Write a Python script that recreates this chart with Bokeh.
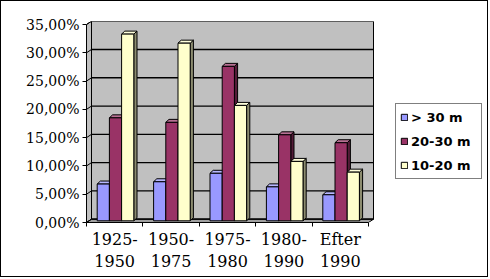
from bokeh.plotting import figure
from bokeh.models import (Range1d, FixedTicker, Legend, LegendItem, ColumnDataSource)
from bokeh.embed import file_html
from bokeh.resources import INLINE

# ---- data ----
tick_labels = ["1925-\n1950", "1950-\n1975", "1975-\n1980", "1980-\n1990", "Efter\n1990"]
series_names = ["> 30 m", "20-30 m", "10-20 m"]
over_30 = [6.5, 6.9, 8.4, 6.0, 4.6]
m20_30 = [18.2, 17.4, 27.3, 15.2, 13.8]
m10_20 = [33.0, 31.4, 20.4, 10.5, 8.6]
y_ticks = [0, 5, 10, 15, 20, 25, 30, 35]

series = [over_30, m20_30, m10_20]
colors = ["#9999FF", "#993366", "#FFFFCC"]

# ---- geometry / style ----
PX_X = 56.4           # px per category
PX_Y = 198 / 35       # px per percent
WX, WY = 5 / PX_X, 3.3 / PX_Y        # wall depth
DX, DY = 3.2 / PX_X, 3.0 / PX_Y      # bar depth
BW = 12.2 / PX_X
OFF = 10.7 / PX_X
BASE = 0.3
n = len(tick_labels)
ymax = y_ticks[-1]


def shade(hexc, f):
    r, g, b = int(hexc[1:3], 16), int(hexc[3:5], 16), int(hexc[5:7], 16)
    return "#%02x%02x%02x" % (int(r * f), int(g * f), int(b * f))


def tint(hexc, f):
    r, g, b = int(hexc[1:3], 16), int(hexc[3:5], 16), int(hexc[5:7], 16)
    return "#%02x%02x%02x" % (int(r + (255 - r) * f), int(g + (255 - g) * f), int(b + (255 - b) * f))


# canvas 488x277 plus a 1px CSS border -> 490x279 on the page
p = figure(width=488, height=277, output_backend="svg", toolbar_location=None,
           x_range=Range1d(0, 402 / PX_X), y_range=Range1d(0, 201 / PX_Y),
           min_border_left=85, min_border_right=1, min_border_top=20, min_border_bottom=56)
p.styles = {"border": "1px solid black"}
p.xgrid.visible = False
p.ygrid.visible = False
p.outline_line_color = None
p.background_fill_color = "white"
p.border_fill_color = "white"

# walls
p.quad(left=[WX], right=[n + WX], bottom=[WY], top=[ymax + WY],
       fill_color="#C0C0C0", line_color="black", line_width=1)
p.patch([0, WX, WX, 0], [0, WY, ymax + WY, ymax], fill_color="#C0C0C0",
        line_color="black", line_width=1)
p.patch([0, n, n + WX, WX], [0, 0, WY, WY], fill_color="#A0A0A0",
        line_color="black", line_width=1)
p.segment(x0=[WX] * len(y_ticks), y0=[t + WY for t in y_ticks],
          x1=[n + WX] * len(y_ticks), y1=[t + WY for t in y_ticks],
          line_color="black", line_width=1.3)
p.segment(x0=[0] * len(y_ticks), y0=y_ticks, x1=[WX] * len(y_ticks),
          y1=[t + WY for t in y_ticks], line_color="black", line_width=1)

# bars
front_renderers = []
for j, (vals, col) in enumerate(zip(series, colors)):
    lefts = [i + OFF + j * BW for i in range(n)]
    rights = [l + BW for l in lefts]
    tops = [BASE + v for v in vals]
    side_xs = [[r, r + DX, r + DX, r] for r in rights]
    side_ys = [[BASE, BASE + DY, t + DY, t] for t in tops]
    top_xs = [[l, l + DX, r + DX, r] for l, r in zip(lefts, rights)]
    top_ys = [[t, t + DY, t + DY, t] for t in tops]
    p.patches(side_xs, side_ys, fill_color=shade(col, 0.55), line_color="black", line_width=1)
    p.patches(top_xs, top_ys, fill_color=tint(col, 0.3), line_color="black", line_width=1)
    src = ColumnDataSource(dict(left=lefts, right=rights, top=tops, bottom=[BASE] * n))
    r = p.quad(left="left", right="right", top="top", bottom="bottom", source=src,
               fill_color=col, line_color="black", line_width=1)
    front_renderers.append(r)

# axes
p.yaxis.ticker = FixedTicker(ticks=y_ticks)
p.yaxis.major_label_overrides = {t: ("%.2f" % t).replace(".", ",") + "%" for t in y_ticks}
p.yaxis.bounds = (0, ymax)
p.yaxis.major_tick_out = 4
p.yaxis.major_tick_in = 0
p.yaxis.minor_tick_line_color = None
p.yaxis.major_label_standoff = 3
p.yaxis.major_label_text_font = "DejaVu Serif"
p.yaxis.major_label_text_font_size = "14px"
p.yaxis.major_label_text_color = "black"
p.yaxis.axis_line_color = "black"

centers = [i + 0.5 for i in range(n)]
p.xaxis.ticker = FixedTicker(ticks=centers, minor_ticks=list(range(n + 1)))
p.xaxis.major_label_overrides = {c: lab for c, lab in zip(centers, tick_labels)}
p.xaxis.bounds = (0, n)
p.xaxis.major_tick_line_color = None
p.xaxis.minor_tick_out = 4
p.xaxis.minor_tick_in = 0
p.xaxis.minor_tick_line_color = "black"
p.xaxis.axis_line_color = "black"
p.xaxis.major_label_standoff = 1
p.xaxis.major_label_text_font = "DejaVu Serif"
p.xaxis.major_label_text_font_size = "16px"
p.xaxis.major_label_text_color = "black"

# legend
legend = Legend(items=[LegendItem(label=nm, renderers=[r]) for nm, r in zip(series_names, front_renderers)],
                location=(309, 43), orientation="vertical",
                label_text_font="DejaVu Sans", label_text_font_style="bold",
                label_text_font_size="13px", label_text_color="black",
                glyph_width=8, glyph_height=8, label_height=18, label_width=66,
                label_standoff=3, spacing=6, padding=4, margin=0,
                border_line_color="black", border_line_width=1,
                background_fill_color="white", background_fill_alpha=1)
p.add_layout(legend)

open("out.html", "w").write(file_html(p, INLINE))
